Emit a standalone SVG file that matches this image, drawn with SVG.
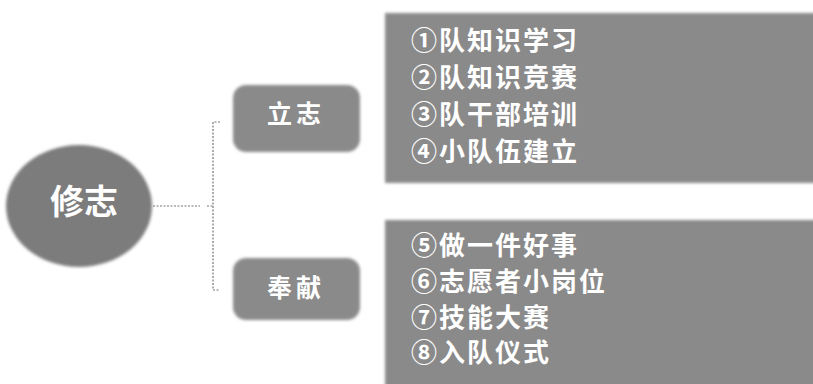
<svg xmlns="http://www.w3.org/2000/svg" width="813" height="384" viewBox="0 0 813 384">
<defs>
<filter id="soft" x="-10%" y="-10%" width="120%" height="120%"><feGaussianBlur stdDeviation="1.6"/></filter>
</defs>
<style>
.shape{fill:#8a8a8a;filter:url(#soft)}
.dark{fill:#7c7c7c;filter:url(#soft)}
.t{font-family:"Noto Sans CJK SC","Noto Sans CJK JP",sans-serif;font-weight:bold;fill:#ffffff}
.item{font-size:26px;letter-spacing:2px}
.conn{fill:none;stroke:#777;stroke-width:1.2;stroke-dasharray:2 1.5}
</style>
<rect width="813" height="384" fill="#ffffff"/>
<g id="connectors">
<path class="conn" d="M153 206 H200 M207 206 H213"/>
<path class="conn" d="M220 122 H213 V290 H220"/>
</g>
<g id="node-xiuzhi">
<ellipse class="dark" cx="79" cy="206" rx="73" ry="61"/>
<text class="t" x="84" y="214" font-size="34" text-anchor="middle">修志</text>
</g>
<g id="node-lizhi">
<rect class="shape" x="233" y="85" width="127" height="67" rx="13"/>
<text class="t" x="296" y="123" font-size="25" text-anchor="middle" letter-spacing="4">立志</text>
</g>
<g id="node-fengxian">
<rect class="shape" x="233" y="258" width="127" height="62" rx="13"/>
<text class="t" x="296" y="297" font-size="25" text-anchor="middle" letter-spacing="4">奉献</text>
</g>
<g id="node-list1">
<rect class="shape" x="385" y="13" width="440" height="170"/>
<text class="t item" x="411" y="50">①队知识学习</text>
<text class="t item" x="411" y="87">②队知识竞赛</text>
<text class="t item" x="411" y="124">③队干部培训</text>
<text class="t item" x="411" y="161">④小队伍建立</text>
</g>
<g id="node-list2">
<rect class="shape" x="385" y="220" width="440" height="175"/>
<text class="t item" x="411" y="255">⑤做一件好事</text>
<text class="t item" x="411" y="291">⑥志愿者小岗位</text>
<text class="t item" x="411" y="327">⑦技能大赛</text>
<text class="t item" x="411" y="362">⑧入队仪式</text>
</g>
</svg>
